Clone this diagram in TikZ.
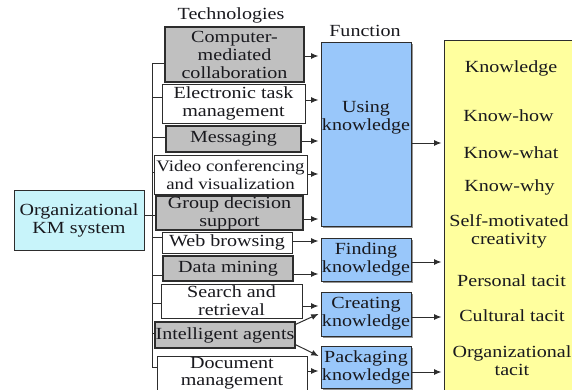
\documentclass[tikz,border=0pt]{standalone}
\usepackage{fontspec}
\setmainfont[FakeStretch=1.18]{Liberation Serif}
\usetikzlibrary{arrows.meta,shadows}

\definecolor{linecol}{RGB}{45,45,45}
\definecolor{txtcol}{RGB}{25,25,30}
\definecolor{techgray}{RGB}{192,192,192}
\definecolor{kmcyan}{RGB}{200,244,250}
\definecolor{funcblue}{RGB}{153,199,250}
\definecolor{kyellow}{RGB}{255,255,158}

\tikzset{
  box/.style={draw=linecol, line width=1pt, inner sep=0pt, align=center,
              text=txtcol, font=\fontsize{17}{18}\selectfont},
  graybox/.style={box, fill=techgray, line width=1.3pt},
  whitebox/.style={box, fill=white},
  kmbox/.style={box, fill=kmcyan},
  funcbox/.style={box, fill=funcblue,
    drop shadow={shadow xshift=1.5pt, shadow yshift=-1.5pt, fill=black!70, opacity=0.6}},
  yellowbox/.style={box, fill=kyellow},
  lbl/.style={inner sep=0pt, align=center, text=txtcol, font=\fontsize{17}{18}\selectfont},
  conn/.style={draw=linecol, line width=1pt},
  arr/.style={conn, -{Latex[length=7.5pt,width=6pt]}, shorten >=2pt},
}

\begin{document}
\begin{tikzpicture}[x=1pt,y=-1pt]
\useasboundingbox (0,0) rectangle (572,389);
\clip (0,0) rectangle (572,389);

% headings
\node[lbl] (hTech) at (231,15) {Technologies};
\node[lbl] (hFunc) at (365,31) {Function};

% organizational system
\node[kmbox, minimum width=130pt, minimum height=60pt] (org) at (79,220) {Organizational\\KM system};

% technologies
\node[graybox, minimum width=139pt, minimum height=55pt] (t1) at (234.5,54.5) {Computer-\\mediated\\collaboration};
\node[whitebox, minimum width=143pt, minimum height=39pt] (t2) at (233.5,103.5) {Electronic task\\management};
\node[graybox, minimum width=135pt, minimum height=26pt] (t3) at (233.5,139) {Messaging};
\node[whitebox, minimum width=153pt, minimum height=39pt, font=\fontsize{16}{18}\selectfont] (t4) at (230.5,174.5) {Video conferencing\\and visualization};
\node[graybox, minimum width=147pt, minimum height=34pt] (t5) at (229.5,213) {Group decision\\support};
\node[whitebox, minimum width=130pt, minimum height=21pt] (t6) at (227,242.5) {Web browsing};
\node[graybox, minimum width=130pt, minimum height=25pt] (t7) at (228,268.5) {Data mining};
\node[whitebox, minimum width=141pt, minimum height=34pt] (t8) at (231.5,301) {Search and\\retrieval};
\node[graybox, minimum width=140pt, minimum height=26pt] (t9) at (225,335) {Intelligent agents};
\node[whitebox, minimum width=150pt, minimum height=34pt, anchor=north,
      font=\fontsize{17}{17}\selectfont] (t10) at (232,356) {Document\\management};

% functions
\node[funcbox, minimum width=90pt, minimum height=184pt] (f1) at (366,134) {};
\node[lbl] (f1t) at (366,118) {Using\\knowledge};
\node[funcbox, minimum width=90pt, minimum height=43pt] (f2) at (366,259.5) {Finding\\knowledge};
\node[funcbox, minimum width=90pt, minimum height=44pt] (f3) at (366,314) {Creating\\knowledge};
\node[funcbox, minimum width=90pt, minimum height=42pt] (f4) at (366,367) {Packaging\\knowledge};

% knowledge types
\node[yellowbox, minimum width=150pt, minimum height=360pt, anchor=north west] (yel) at (443.5,40) {};
\node[lbl] (k1) at (511,68) {Knowledge};
\node[lbl] (k2) at (508.5,116) {Know-how};
\node[lbl] (k3) at (511,153) {Know-what};
\node[lbl] (k4) at (509.5,187) {Know-why};
\node[lbl] (k5) at (509,231) {Self-motivated\\creativity};
\node[lbl] (k6) at (511.5,281) {Personal tacit};
\node[lbl] (k7) at (512,316) {Cultural tacit};
\node[lbl] (k8) at (512,361) {Organizational\\tacit};

% tree from the KM system to the technologies
\coordinate (trunktop) at (152,63);
\coordinate (trunkbot) at (152,367);
\draw[conn] (t1.west |- trunktop) -- (trunktop) -- (trunkbot) -- (t10.west |- trunkbot);
\draw[conn] (org.east |- 0,215) -- (t5.west |- 0,215);
\draw[conn] (trunktop |- 0,97)  -- (t2.west |- 0,97);
\draw[conn] (trunktop |- 0,137) -- (t3.west |- 0,137);
\draw[conn] (trunktop |- 0,172) -- (t4.west |- 0,172);
\draw[conn] (trunktop |- 0,237) -- (t6.west |- 0,237);
\draw[conn] (trunktop |- 0,275) -- (t7.west |- 0,275);
\draw[conn] (trunktop |- 0,303) -- (t8.west |- 0,303);
\draw[conn] (trunktop |- 0,333) -- (t9.west |- 0,333);

% technologies to functions
\draw[arr] (t1.east |- 0,56)  -- (f1.west |- 0,56);
\draw[arr] (t2.east |- 0,100) -- (f1.west |- 0,100);
\draw[arr] (t3.east |- 0,141) -- (f1.west |- 0,141);
\draw[arr] (t4.east |- 0,174) -- (f1.west |- 0,174);
\draw[arr] (t5.east |- 0,219) -- (f1.west |- 0,219);
\draw[arr] (t6.east |- 0,241) -- (f2.west |- 0,241);
\draw[arr] (t7.east |- 0,274) -- (f2.west |- 0,274);
\draw[arr] (t8.east |- 0,306) -- (f3.west |- 0,306);
\draw[arr] ([yshift=-3pt]t9.north east) -- (f3.west |- 0,313);
\draw[arr] ([yshift=4pt]t9.south east) -- (f4.west |- 0,357);
\draw[arr] (t10.east |- 0,371) -- (f4.west |- 0,371);

% functions to knowledge types
\draw[arr] (f1.east |- 0,143) -- (yel.west |- 0,143);
\draw[arr] (f2.east |- 0,262) -- (yel.west |- 0,262);
\draw[arr] (f3.east |- 0,317) -- (yel.west |- 0,317);
\draw[arr] (f4.east |- 0,372) -- (yel.west |- 0,372);
\end{tikzpicture}
\end{document}
